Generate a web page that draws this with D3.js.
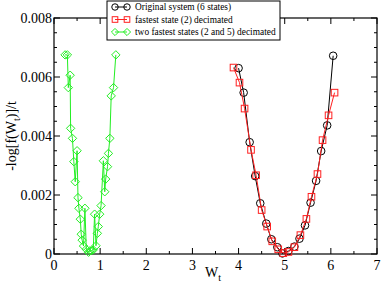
<!DOCTYPE html>
<html>
<head>
<meta charset="utf-8">
<script src="https://cdn.jsdelivr.net/npm/d3@7"></script>
<style>
  body { margin: 0; background: #fff; }
</style>
</head>
<body>
<div id="chart"></div>
<script>
// series
const origX = [4.00, 4.11, 4.24, 4.36, 4.47, 4.60, 4.71, 4.84, 4.95, 5.08, 5.21, 5.32, 5.44, 5.56, 5.68, 5.79, 5.92, 6.05];
const origY = [0.0063, 0.00547, 0.00379, 0.00264, 0.00172, 0.00103, 0.0005, 0.00023, 0.00002, 0.0001, 0.00025, 0.00052, 0.00097, 0.00174, 0.00248, 0.00349, 0.00436, 0.00672];

const decX = [3.89, 4.02, 4.13, 4.27, 4.38, 4.50, 4.62, 4.73, 4.86, 4.97, 5.08, 5.21, 5.34, 5.47, 5.58, 5.71, 5.82, 5.95, 6.08];
const decY = [0.00632, 0.00581, 0.00493, 0.00353, 0.00267, 0.00149, 0.00093, 0.00043, 0.00016, 0.00003, 0.00007, 0.00023, 0.00064, 0.00119, 0.00194, 0.00271, 0.00386, 0.0047, 0.00547];

const twoX = [0.24, 0.29, 0.31, 0.35, 0.36, 0.40, 0.43, 0.46, 0.50, 0.52, 0.54, 0.57, 0.59, 0.61, 0.64, 0.67, 0.70, 0.75, 0.78, 0.81, 0.85, 0.88, 0.91, 0.94, 0.96, 0.99, 1.02, 1.07, 1.10, 1.12, 1.16, 1.18, 1.21, 1.24, 1.29, 1.34];
const twoY = [0.00675, 0.00675, 0.00564, 0.00606, 0.00426, 0.00392, 0.00313, 0.00245, 0.0035, 0.00191, 0.00155, 0.00118, 0.00067, 0.00047, 0.00027, 0.00155, 0.00016, 0.00006, 0.00011, 0.00011, 0.00014, 0.00135, 0.00028, 0.0007, 0.00093, 0.00135, 0.00164, 0.00316, 0.00211, 0.00254, 0.00296, 0.00341, 0.00392, 0.00536, 0.00564, 0.00675];

const xTicks = [0, 1, 2, 3, 4, 5, 6, 7];
const yTicks = [0, 0.002, 0.004, 0.006, 0.008];
const legendLabels = ["Original system (6 states)", "fastest state (2) decimated", "two fastest states (2 and 5) decimated"];

const width = 382, height = 287;
const margin = {top: 18, bottom: 33, left: 54, right: 5};
const serif = "'Liberation Serif'";

const svg = d3.select('#chart')
    .append('svg')
    .attr('width', width)
    .attr('height', height);

const xScale = d3.scaleLinear()
    .domain([0, 7])
    .range([margin.left, width - margin.right]);

const yScale = d3.scaleLinear()
    .domain([0, 0.008])
    .range([height - margin.bottom, margin.top]);

const x0 = margin.left, x1 = width - margin.right;
const y0 = height - margin.bottom, y1 = margin.top;

// frame
svg.append('rect')
    .attr('x', x0).attr('y', y1)
    .attr('width', x1 - x0).attr('height', y0 - y1)
    .attr('fill', 'none').attr('stroke', 'black').attr('stroke-width', 1.2);

// inward ticks on all four sides
const xMinor = d3.range(0.5, 7, 1);
const yMinor = d3.range(0.0005, 0.008, 0.0005).filter(v => Math.abs(v / 0.002 - Math.round(v / 0.002)) > 1e-6);
const ticks = svg.append('g').attr('stroke', 'black').attr('stroke-width', 1);

xTicks.concat(xMinor).forEach(v => {
    const len = xTicks.includes(v) ? 6 : 3;
    ticks.append('line').attr('x1', xScale(v)).attr('x2', xScale(v)).attr('y1', y0).attr('y2', y0 - len);
    ticks.append('line').attr('x1', xScale(v)).attr('x2', xScale(v)).attr('y1', y1).attr('y2', y1 + len);
});
yTicks.concat(yMinor).forEach(v => {
    const len = yTicks.includes(v) ? 6 : 3;
    ticks.append('line').attr('y1', yScale(v)).attr('y2', yScale(v)).attr('x1', x0).attr('x2', x0 + len);
    ticks.append('line').attr('y1', yScale(v)).attr('y2', yScale(v)).attr('x1', x1).attr('x2', x1 - len);
});

// tick labels
svg.append('g').selectAll('text')
    .data(xTicks)
    .enter().append('text')
    .attr('x', d => xScale(d))
    .attr('y', y0 + 16)
    .attr('text-anchor', 'middle')
    .style('font-family', serif)
    .style('font-size', '14px')
    .text(d => d);

svg.append('g').selectAll('text')
    .data(yTicks)
    .enter().append('text')
    .attr('x', x0 - 2)
    .attr('y', d => yScale(d) + 5)
    .attr('text-anchor', 'end')
    .style('font-family', serif)
    .style('font-size', '14px')
    .text(d => d === 0 ? '0' : d.toFixed(3));

// axis labels
const xl = svg.append('text')
    .attr('x', 213).attr('y', 277)
    .attr('text-anchor', 'middle')
    .style('font-family', serif)
    .style('font-size', '14px');
xl.append('tspan').text('W');
xl.append('tspan').attr('dy', 4).style('font-size', '10px').text('t');

const yl = svg.append('text')
    .attr('transform', 'translate(16,136) rotate(-90)')
    .attr('text-anchor', 'middle')
    .style('font-family', serif)
    .style('font-size', '14px');
yl.append('tspan').text('-log[f(W');
yl.append('tspan').attr('dy', 4).style('font-size', '10px').text('t');
yl.append('tspan').attr('dy', -4).text(')]/t');

// series
const series = [
    {xs: origX, ys: origY, color: 'black', shape: 'circle'},
    {xs: decX, ys: decY, color: '#ff2020', shape: 'square'},
    {xs: twoX, ys: twoY, color: '#22ee22', shape: 'diamond'}
];

function drawMarker(g, shape, color, cx, cy, k) {
    if (shape === 'circle') {
        g.append('circle').attr('cx', cx).attr('cy', cy).attr('r', 3.8 * k)
            .attr('fill', 'none').attr('stroke', color);
    } else if (shape === 'square') {
        const h = 3.3 * k;
        g.append('rect').attr('x', cx - h).attr('y', cy - h).attr('width', 2 * h).attr('height', 2 * h)
            .attr('fill', 'none').attr('stroke', color);
    } else {
        const s = 4.2 * k;
        g.append('path').attr('d', `M${cx},${cy - s}L${cx + s},${cy}L${cx},${cy + s}L${cx - s},${cy}Z`)
            .attr('fill', 'none').attr('stroke', color);
    }
}

const line = d3.line().x(d => xScale(d[0])).y(d => yScale(d[1]));

series.forEach(s => {
    const pts = s.xs.map((x, i) => [x, s.ys[i]]);
    const g = svg.append('g');
    g.append('path').datum(pts)
        .attr('d', line)
        .attr('fill', 'none')
        .attr('stroke', s.color)
        .attr('stroke-width', 1);
    pts.forEach(p => drawMarker(g, s.shape, s.color, xScale(p[0]), yScale(p[1]), 1));
});

// legend
const lg = svg.append('g');
lg.append('rect')
    .attr('x', 107).attr('y', 1).attr('width', 173).attr('height', 39)
    .attr('fill', 'white').attr('stroke', 'black').attr('stroke-width', 1);
legendLabels.forEach((lab, i) => {
    const cy = 7 + i * 12.5;
    const s = series[i];
    lg.append('line').attr('x1', 115).attr('x2', 127).attr('y1', cy).attr('y2', cy)
        .attr('stroke', s.color);
    drawMarker(lg, s.shape, s.color, 115, cy, 0.85);
    drawMarker(lg, s.shape, s.color, 127, cy, 0.85);
    lg.append('text')
        .attr('x', 135).attr('y', cy + 3.3)
        .style('font-family', serif)
        .style('font-size', '9.4px')
        .text(lab);
});
</script>
</body>
</html>
